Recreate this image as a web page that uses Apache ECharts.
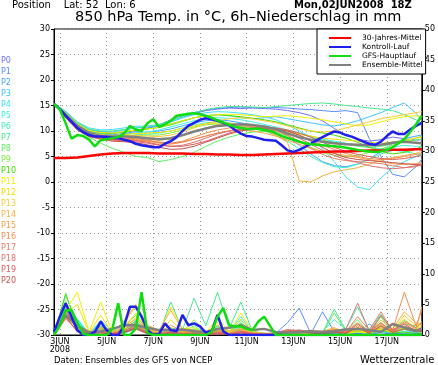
<!DOCTYPE html>
<html><head><meta charset="utf-8">
<script src="https://cdn.jsdelivr.net/npm/echarts@6/dist/echarts.min.js"></script>
<style>html,body{margin:0;padding:0;background:#fff}#c{width:438px;height:365px}</style>
</head><body><div id="c"></div>
<script>
// 6-hourly time steps from 02JUN2008 18Z
const categories = ["02JUN18",
"03JUN00","03JUN06","03JUN12","03JUN18","04JUN00","04JUN06","04JUN12","04JUN18",
"05JUN00","05JUN06","05JUN12","05JUN18","06JUN00","06JUN06","06JUN12","06JUN18",
"07JUN00","07JUN06","07JUN12","07JUN18","08JUN00","08JUN06","08JUN12","08JUN18",
"09JUN00","09JUN06","09JUN12","09JUN18","10JUN00","10JUN06","10JUN12","10JUN18",
"11JUN00","11JUN06","11JUN12","11JUN18","12JUN00","12JUN06","12JUN12","12JUN18",
"13JUN00","13JUN06","13JUN12","13JUN18","14JUN00","14JUN06","14JUN12","14JUN18",
"15JUN00","15JUN06","15JUN12","15JUN18","16JUN00","16JUN06","16JUN12","16JUN18",
"17JUN00","17JUN06","17JUN12","17JUN18","18JUN00","18JUN06","18JUN12"];

const leftTicks = [-30,-25,-20,-15,-10,-5,0,5,10,15,20,25,30];
const rightTicks = [0,5,10,15,20,25,30,35,40,45,50];

// 6-hourly series (64 values)
const mainTemp = [15.3,14.2,11.5,8.5,9.2,9.0,8.3,7.0,8.2,8.4,8.6,8.8,9.5,11.0,10.3,10.0,11.5,12.3,10.8,11.3,12.0,13.0,13.2,13.4,13.5,13.3,13.0,12.6,12.1,11.7,11.2,10.8,10.6,10.4,10.4,10.5,10.2,10.0,9.6,9.0,8.6,8.3,7.9,7.6,7.4,7.3,7.2,7.1,7.0,6.9,6.7,6.5,6.3,6.1,6.0,5.9,6.0,6.3,6.8,7.6,8.4,9.8,11.3,13.0];
const controlTemp = [15.3,14.3,13.0,11.8,10.6,9.8,9.2,8.9,8.9,8.8,8.7,8.6,8.3,8.0,7.5,7.2,7.0,6.8,6.8,7.5,8.0,8.8,10.0,11.0,11.6,12.2,12.5,12.3,12.0,11.6,11.1,10.2,9.5,9.0,8.9,8.6,8.3,8.2,8.1,7.2,6.2,5.9,6.3,6.9,7.5,8.2,8.8,9.4,9.9,9.7,9.2,8.9,8.4,7.9,7.5,7.3,7.9,9.0,9.9,9.4,9.4,10.3,11.0,11.6];
const mainPrecip = [0,1.5,4.0,4.1,2.0,0.2,0,0,0,0,1.0,5.2,0,0,1.0,7.0,0.3,0,0,0,0,0,0,0,0,0,0,0.5,3.0,4.4,1.6,1.4,1.4,1.0,0.8,2.2,3.0,1.5,0,0,0,0,0,0,0,0,0,0,0,0,0,0,0,0,0,0,0,0,0,0,0,0,0,0];
const controlPrecip = [0.5,3.0,5.2,3.0,0.8,0,0,0.5,2.2,0.8,0,0,1.5,4.6,4.6,3.0,0.8,0,0.2,1.9,0.8,0.6,3.3,1.6,1.9,1.4,0.4,0.6,3.3,0.6,0,0,0,0,0,0,0,0,0,0,0,0,0,0,0,0,0,0,0,0,0,0,0,0,0,0,0,0,0,0,0,0,0,0];

// 12-hourly series (33 values, last one at 18JUN12)
const climTemp = [4.7,4.7,4.8,5.1,5.4,5.6,5.7,5.7,5.7,5.6,5.6,5.6,5.5,5.5,5.4,5.4,5.3,5.3,5.4,5.5,5.6,5.7,5.8,5.9,6.0,6.0,6.1,6.2,6.2,6.3,6.3,6.4,6.4];
const meanTemp = [15.3,13.2,11.0,9.6,9.0,8.9,8.9,8.8,8.6,8.4,8.6,9.2,9.9,10.5,11.0,11.2,11.3,11.2,10.9,10.4,9.5,8.8,8.3,7.9,7.6,7.4,7.3,7.2,7.3,7.7,7.9,7.7,7.6];
const meanPrecip = [0.3,3.2,1.5,0.4,0.6,1.0,1.6,1.6,1.2,0.8,0.8,0.9,0.6,0.5,1.0,1.2,1.6,0.8,1.0,0.5,0.4,0.5,0.6,0.5,0.6,0.9,1.0,0.8,0.5,1.8,1.2,0.7,1.0];

const memberNames = ["P0","P1","P2","P3","P4","P5","P6","P7","P8","P9","P10","P11","P12","P13","P14","P15","P16","P17","P18","P19","P20"];
const memberColors = ["#7070ff","#5a8cff","#46a6ff","#40c4ff","#40e0ff","#40f0e8","#40f0c0","#48e890","#60f060","#80f040","#40e000","#f0f000","#f8e000","#f8cc30","#f8b040","#f8a040","#f09050","#e88060","#e07070","#d86060","#c85050"];

const memberTemp = [
[15.3,13.8,11.6,10.2,9.8,9.6,9.8,10.2,10.6,11.0,11.8,12.6,13.4,14.0,14.3,14.5,14.4,14.5,14.4,14.3,14.0,13.6,13.0,12.0,10.5,9.2,8.4,8.0,8.3,8.8,8.5,8.2,8.3],
[15.3,13.5,11.2,9.8,9.4,9.2,9.5,9.9,10.4,11.2,12.2,13.0,13.6,14.1,14.4,14.6,14.7,14.6,14.5,14.6,14.5,14.3,14.2,14.0,13.8,14.0,13.6,8.5,5.0,1.5,1.0,3.0,4.5],
[15.3,13.2,11.0,9.8,9.4,9.2,9.4,9.6,9.8,10.0,10.4,11.0,11.6,12.0,12.2,12.0,11.6,11.2,10.8,10.2,9.0,7.2,5.5,4.0,3.2,3.0,3.5,4.5,6.0,7.5,8.5,9.0,9.2],
[15.3,13.6,11.5,10.2,9.9,9.8,10.2,10.6,10.8,11.0,11.4,12.0,12.6,13.0,13.2,13.0,12.6,12.4,12.6,12.8,12.4,12.0,11.6,11.2,11.0,11.4,12.0,12.8,13.6,14.6,15.5,13.5,12.0],
[15.3,13.9,11.8,10.6,10.2,10.3,10.6,10.9,11.0,11.2,11.8,12.6,13.2,13.6,13.8,13.7,13.5,13.2,12.8,12.2,11.2,10.0,8.8,6.5,4.0,1.0,-1.0,-1.5,0.8,2.8,4.0,5.0,5.5],
[15.3,13.3,11.0,9.6,9.2,9.0,9.3,9.6,9.8,10.2,10.8,11.4,12.0,12.4,12.6,12.5,12.2,11.8,11.3,10.8,10.2,9.6,9.0,8.4,8.0,7.6,7.2,6.8,6.5,6.8,7.2,7.0,6.8],
[15.3,13.1,10.8,9.4,9.0,8.8,9.0,9.2,9.4,9.6,10.0,10.6,11.2,11.6,11.8,11.6,11.2,10.6,10.0,9.2,8.0,6.5,5.0,3.8,3.0,2.8,3.5,4.5,5.5,6.2,6.0,5.5,5.2],
[15.3,13.7,11.6,10.4,10.0,10.0,10.3,10.6,10.9,11.3,12.0,12.8,13.6,14.2,14.6,14.8,14.8,14.7,14.6,14.8,15.0,15.2,15.4,15.5,15.3,15.0,14.8,14.5,14.3,14.0,13.2,12.2,11.5],
[15.3,12.8,10.2,8.8,7.6,6.6,5.8,5.0,4.8,4.0,4.4,5.0,5.8,7.0,8.0,8.8,9.4,9.8,10.0,10.2,10.0,9.5,8.8,8.2,7.8,7.4,7.0,6.8,7.0,7.5,8.0,8.2,8.4],
[15.3,13.0,10.6,9.4,9.0,8.8,9.0,9.2,9.2,9.2,9.6,10.2,10.8,11.2,11.4,11.2,10.8,10.4,10.0,9.6,9.0,8.0,6.8,5.8,5.2,5.0,5.2,5.8,6.5,7.2,8.0,8.6,9.0],
[15.3,13.4,11.3,10.0,9.6,9.5,9.8,10.1,10.4,10.7,11.2,11.9,12.6,13.0,13.2,13.0,12.8,12.5,12.2,11.8,11.2,10.6,10.0,9.6,9.2,8.6,7.8,6.8,6.0,5.5,5.8,6.4,7.0],
[15.3,13.6,11.4,10.1,9.7,9.6,9.9,10.2,10.4,10.7,11.4,12.0,12.6,13.0,13.2,13.3,13.2,13.0,12.8,12.9,13.0,12.8,12.5,12.2,11.8,11.4,11.0,11.2,11.8,12.4,12.8,13.0,12.8],
[15.3,13.2,11.0,9.7,9.3,9.1,9.3,9.5,9.6,9.7,10.0,10.5,11.0,11.4,11.6,11.5,11.2,11.0,10.6,10.2,9.8,9.4,9.0,8.6,8.4,8.2,8.0,7.8,7.6,7.8,8.2,8.6,8.8],
[15.3,13.0,10.8,9.5,9.1,8.9,9.0,9.1,9.0,8.9,9.2,9.8,10.6,11.4,12.0,12.4,12.6,12.4,12.0,11.6,11.0,10.4,10.0,9.8,10.0,10.6,11.2,11.8,12.4,12.8,13.2,13.6,13.8],
[15.3,12.9,10.6,9.2,8.8,8.5,8.6,8.6,8.4,8.2,8.4,9.0,9.8,10.6,11.2,11.4,11.2,10.8,10.2,9.2,7.8,0.2,0.0,1.2,2.0,2.4,2.8,3.5,4.2,4.8,5.2,5.6,6.0],
[15.3,12.7,10.4,9.1,8.6,8.3,8.3,8.2,8.0,7.6,7.4,7.8,8.4,9.0,9.6,10.0,10.2,10.0,9.6,9.0,8.2,7.4,6.6,6.0,5.6,5.2,4.8,4.4,4.0,3.6,3.4,3.6,3.8],
[15.3,12.8,10.5,9.2,8.7,8.4,8.4,8.3,8.1,7.8,7.6,8.0,8.8,9.6,10.2,10.6,10.8,10.9,10.8,10.5,10.0,9.2,8.2,7.2,6.4,5.6,5.0,4.6,4.4,4.6,5.0,5.4,5.6],
[15.3,12.9,10.7,9.4,8.9,8.6,8.6,8.5,8.2,7.8,7.6,7.8,8.4,9.0,9.6,10.0,10.4,10.6,10.4,10.0,9.2,8.0,6.6,5.4,4.6,4.2,4.0,3.8,3.6,3.2,2.8,3.0,3.4],
[15.3,12.6,10.3,9.0,8.5,8.2,8.1,7.9,7.6,7.2,7.0,7.2,7.8,8.6,9.4,10.0,10.4,10.6,10.5,10.2,9.6,8.6,7.4,6.2,5.2,4.4,3.8,3.2,2.8,2.6,2.8,3.2,3.6],
[15.3,12.7,10.4,9.1,8.6,8.3,8.3,8.1,7.8,7.3,7.0,7.0,7.4,8.0,8.8,9.6,10.2,10.6,10.8,10.6,10.2,9.6,8.8,7.8,6.8,6.0,5.4,5.0,4.6,4.4,4.6,5.0,5.2],
[15.3,12.6,10.2,8.9,8.4,8.0,7.9,7.7,7.3,6.8,6.4,6.5,7.0,7.8,8.6,9.4,10.0,10.4,10.6,10.4,10.0,9.2,8.0,6.8,5.6,4.8,4.4,4.2,4.0,3.8,3.6,3.4,3.3]
];

const memberPrecip = [
[0,4.5,1.5,0,0.8,0.2,0.5,2.0,0.5,0,0.3,0.5,0.2,0,0.8,0.3,0.5,0,0,0,0,0,0,0,0,0,0.2,0,0,0.3,0,0,0],
[0,5.0,2.0,0.2,1.5,0.5,0.8,1.2,0.3,0.1,0.5,0.3,0.6,0.2,1.0,0.2,0.8,0.1,0,0.3,2.0,4.4,0.2,3.8,0.5,0,0.3,0,0.5,0,0.2,0,0],
[0,3.8,1.2,0,1.0,0.3,1.2,2.2,0.8,0,0.2,0.8,0.5,0,0.4,0.6,1.2,0.2,0,0,0.3,0.2,0,0.5,0.2,0.8,0.4,1.8,0.6,0.2,0.3,0.5,0.4],
[0,4.2,2.4,0.3,2.0,0.2,0.5,1.5,1.0,0.2,0.6,0.4,0.3,0.2,0.6,0.3,2.0,0.5,0.2,0,0,0.3,0.2,0.2,0.5,0.3,0.6,0.4,1.0,0.5,1.2,0.8,0.2],
[0,5.2,1.8,0.2,2.4,0.6,0.3,1.0,0.6,0.4,0.8,0.3,0.5,0.2,1.4,0.5,3.0,0.4,0.1,0.2,0.2,0,0,0.3,0.6,0.5,0.8,0.3,0.4,0.6,0.9,0.3,0.3],
[0,4.0,2.2,0.4,1.2,0.4,0.9,1.8,0.4,0.2,0.4,0.6,0.8,0.1,0.6,0.4,1.5,0.2,0,0.1,0.4,0.2,0.3,0.2,0.8,0.3,0.5,0.6,1.2,0.3,0.6,0.4,0.5],
[0,4.8,2.6,0.3,0.8,0.8,0.4,1.0,1.4,0.6,0.3,0.5,1.5,0.3,1.0,0.6,2.4,0.6,0.2,0,0.1,0.2,0,0.6,2.5,1.0,4.6,0.8,3.4,0.5,1.8,1.5,1.0],
[0,6.5,2.0,0.2,1.4,0.2,0.6,2.4,0.4,0.3,5.4,0.8,6.0,1.5,7.0,1.0,5.4,0.6,0.3,0.2,0.3,0.5,0.2,0.4,4.2,0.8,1.0,0.5,1.5,0.8,2.4,1.2,0.8],
[0,4.4,1.6,0.3,0.6,0.3,1.5,3.2,0.8,0.2,1.2,0.6,1.0,0.4,1.5,0.5,1.8,0.4,0.2,0.1,0.3,0.2,0.4,0.3,3.6,0.6,2.5,0.3,3.0,0.2,1.4,0.8,0.6],
[0,5.5,1.4,0.1,1.8,0.5,0.8,1.6,0.6,0.3,0.6,0.4,2.5,0.3,1.2,0.4,2.0,0.3,0.1,0.2,0.2,0.1,0.2,0.5,1.0,0.4,0.8,0.5,2.0,0.4,0.9,0.6,0.4],
[0,6.8,1.0,0.2,1.2,0.2,0.4,1.2,0.5,0.1,0.4,0.2,0.8,0.2,0.6,0.3,1.0,0.2,0,0.1,0.2,0.1,0,0.2,0.4,0.3,0.6,0.2,0.8,0.3,0.5,0.2,0.3],
[0,4.0,7.0,0.5,5.4,0.4,0.8,2.8,0.6,0.4,4.6,1.0,1.2,0.3,2.8,0.5,3.6,0.6,0.2,0.1,0.3,0.2,0.3,0.4,0.6,0.2,0.5,0.3,1.0,0.4,1.2,0.8,1.5],
[0,3.5,5.0,0.4,3.2,0.3,1.0,3.6,0.8,0.3,2.5,0.6,0.7,0.2,2.0,0.3,2.6,0.4,0.2,0,0.2,0.1,0.2,0.3,0.5,0.4,0.7,0.4,1.2,0.8,2.6,1.0,1.8],
[0,3.2,1.8,0.2,0.9,0.6,1.8,4.8,1.2,0.5,1.0,0.5,0.6,0.3,1.0,0.4,1.2,0.3,0.1,0.2,0.2,0.2,0.6,0.5,1.0,0.6,0.9,0.5,1.6,0.7,3.2,1.5,2.2],
[0,3.0,1.2,0.4,1.2,0.5,2.2,5.0,1.6,0.8,4.0,0.9,0.8,0.2,1.6,0.6,1.0,0.4,0.3,0.2,0.4,0.3,0.8,0.6,1.2,0.4,1.2,0.6,2.4,1.0,3.8,2.0,1.6],
[0,2.8,1.6,0.3,0.6,0.4,1.4,2.6,1.0,0.4,1.6,0.6,0.5,0.2,0.8,0.3,0.8,0.3,0.2,0.3,0.6,0.4,0.5,0.4,0.9,0.5,1.5,0.4,1.2,0.6,2.0,1.0,4.6],
[0,3.4,1.0,0.2,0.5,0.3,0.9,2.0,0.7,0.2,0.8,0.4,0.4,0.1,0.6,0.2,0.6,0.2,0.1,0.2,0.8,0.6,0.4,0.5,0.8,0.6,2.0,0.5,1.8,0.8,7.0,1.5,4.0],
[0,2.6,0.8,0.4,0.4,0.2,0.6,1.6,0.5,0.3,0.6,0.3,0.3,0.1,0.5,0.2,0.5,0.1,0.1,0.1,0.5,0.8,0.6,0.4,0.6,0.5,3.0,0.8,3.8,0.6,2.2,1.2,2.0],
[0,3.6,1.4,0.6,0.5,0.3,0.7,1.4,0.4,0.2,0.5,0.2,0.3,0.1,0.4,0.2,0.6,0.3,0.2,0.4,0.9,0.6,0.5,0.6,0.8,1.0,5.2,0.6,2.0,0.5,1.5,0.8,1.2],
[0,4.2,0.6,0.3,0.3,0.2,0.5,1.2,0.3,0.1,0.4,0.2,0.2,0.1,0.3,0.1,0.4,0.2,0.1,0.2,0.7,0.8,0.4,0.3,0.5,0.4,1.8,0.4,3.2,0.8,1.8,0.6,0.8],
[0,3.0,0.5,0.2,0.4,0.1,0.4,1.0,0.2,0.1,0.3,0.1,0.2,0,0.2,0.1,0.3,0.1,0,0.1,0.5,0.6,0.3,0.2,0.4,0.3,1.2,0.3,1.5,0.4,1.0,0.5,0.6]
];

const legendNames = ["30-Jahres-Mittel","Kontroll-Lauf","GFS-Hauptlauf","Ensemble-Mittel"];

const FONT = "DejaVu Sans";
// 12-hourly value k sits on 6-hourly category 2k (last value on the final category)
const at12 = arr => arr.map((v, k) => [Math.min(2 * k, categories.length - 1), v]);
const at6 = arr => arr.map((v, i) => [i, v]);

const series = [];
memberNames.forEach((n, i) => {
  const c = memberColors[i];
  series.push({name: n, type: 'line', xAxisIndex: 0, yAxisIndex: 0, data: at12(memberTemp[i]),
    symbol: 'none', lineStyle: {width: 1, color: c}, itemStyle: {color: c}, z: 2, silent: true});
  series.push({name: n, type: 'line', xAxisIndex: 0, yAxisIndex: 1, data: at12(memberPrecip[i]),
    symbol: 'none', lineStyle: {width: 1, color: c}, itemStyle: {color: c}, z: 2, silent: true});
});
function thick(name, color, yIdx, data, z) {
  series.push({name: name, type: 'line', xAxisIndex: 0, yAxisIndex: yIdx, data: data, symbol: 'none',
    lineStyle: {width: 2.5, color: color}, itemStyle: {color: color}, z: z, silent: true});
}
thick(legendNames[3], '#808080', 0, at12(meanTemp), 3);
thick(legendNames[3], '#808080', 1, at12(meanPrecip), 3);
thick(legendNames[0], '#ff0000', 0, at12(climTemp), 4);
thick(legendNames[1], '#2020ee', 0, at6(controlTemp), 5);
thick(legendNames[1], '#2020ee', 1, at6(controlPrecip), 5);
thick(legendNames[2], '#10dd10', 0, at6(mainTemp), 6);
thick(legendNames[2], '#10dd10', 1, at6(mainPrecip), 6);

const labelIdx = idx => idx >= 1 && (idx - 1) % 8 === 0;

const graphics = memberNames.map((n, i) => ({
  type: 'text', left: 1, top: 57 + 11 * i,
  style: {text: n, fill: memberColors[i], font: '8px "' + FONT + '"'}
}));

const chart = echarts.init(document.getElementById('c'), null, {renderer: 'canvas'});
chart.setOption({
  animation: false,
  backgroundColor: '#fff',
  textStyle: {fontFamily: FONT},
  title: [
    {text: 'Position    Lat: 52  Lon: 6', left: 12, top: 0, padding: 0,
     textStyle: {fontSize: 10, fontWeight: 'normal', color: '#000', fontFamily: FONT}},
    {text: 'Mon,02JUN2008  18Z', left: 294, top: 0, padding: 0,
     textStyle: {fontSize: 10, fontWeight: 'bold', color: '#000', fontFamily: FONT}},
    {text: '850 hPa Temp. in °C, 6h\u2013Niederschlag in mm', left: 75, top: 10, padding: 0,
     textStyle: {fontSize: 14.5, fontWeight: 'normal', color: '#000', fontFamily: FONT}},
    {text: 'Daten: Ensembles des GFS von NCEP', left: 54, top: 356, padding: 0,
     textStyle: {fontSize: 8.5, fontWeight: 'normal', color: '#000', fontFamily: FONT}},
    {text: 'Wetterzentrale', left: 360, top: 355, padding: 0,
     textStyle: {fontSize: 10, fontWeight: 'normal', color: '#000', fontFamily: FONT}}
  ],
  legend: {
    data: legendNames, orient: 'vertical', left: 317, top: 29,
    icon: 'rect', itemWidth: 22, itemHeight: 2, itemGap: 1,
    padding: [5, 3, 5, 12], backgroundColor: '#fff', borderColor: '#000', borderWidth: 1,
    selectedMode: false,
    textStyle: {fontSize: 7.5, lineHeight: 8, color: '#000', fontFamily: FONT, padding: [0, 0, 0, 6]}
  },
  grid: {left: 54, right: 12, top: 29, bottom: 30, show: true, borderColor: '#000', borderWidth: 1, backgroundColor: 'transparent'},
  xAxis: {
    type: 'category', data: categories, boundaryGap: false,
    axisLine: {onZero: false, lineStyle: {color: '#000', width: 1}},
    axisTick: {show: false},
    axisLabel: {interval: labelIdx, fontSize: 8, lineHeight: 8, color: '#000', margin: 3, fontFamily: FONT,
      formatter: (v, idx) => {
        const d = String(parseInt(v.slice(0, 2), 10)) + v.slice(2, 5);
        return idx === 1 ? d + '\n2008' : d;
      }},
    splitLine: {show: true, interval: labelIdx, lineStyle: {color: '#999', type: [1, 3], width: 1}}
  },
  yAxis: [
    {type: 'value', min: leftTicks[0], max: leftTicks[leftTicks.length - 1], interval: 5, position: 'left',
     axisLine: {show: true, onZero: false, lineStyle: {color: '#000'}},
     axisTick: {show: true, length: 3, lineStyle: {color: '#000'}},
     axisLabel: {fontSize: 8, color: '#000', margin: 4, fontFamily: FONT},
     splitLine: {show: true, lineStyle: {color: '#999', type: [1, 3], width: 1}}},
    {type: 'value', min: rightTicks[0], max: rightTicks[rightTicks.length - 1], interval: 5, position: 'right',
     axisLine: {show: true, onZero: false, lineStyle: {color: '#000'}},
     axisTick: {show: true, length: 3, lineStyle: {color: '#000'}},
     axisLabel: {fontSize: 8, color: '#000', margin: 3, fontFamily: FONT},
     splitLine: {show: false}}
  ],
  graphic: graphics,
  series: series
});
</script></body></html>
